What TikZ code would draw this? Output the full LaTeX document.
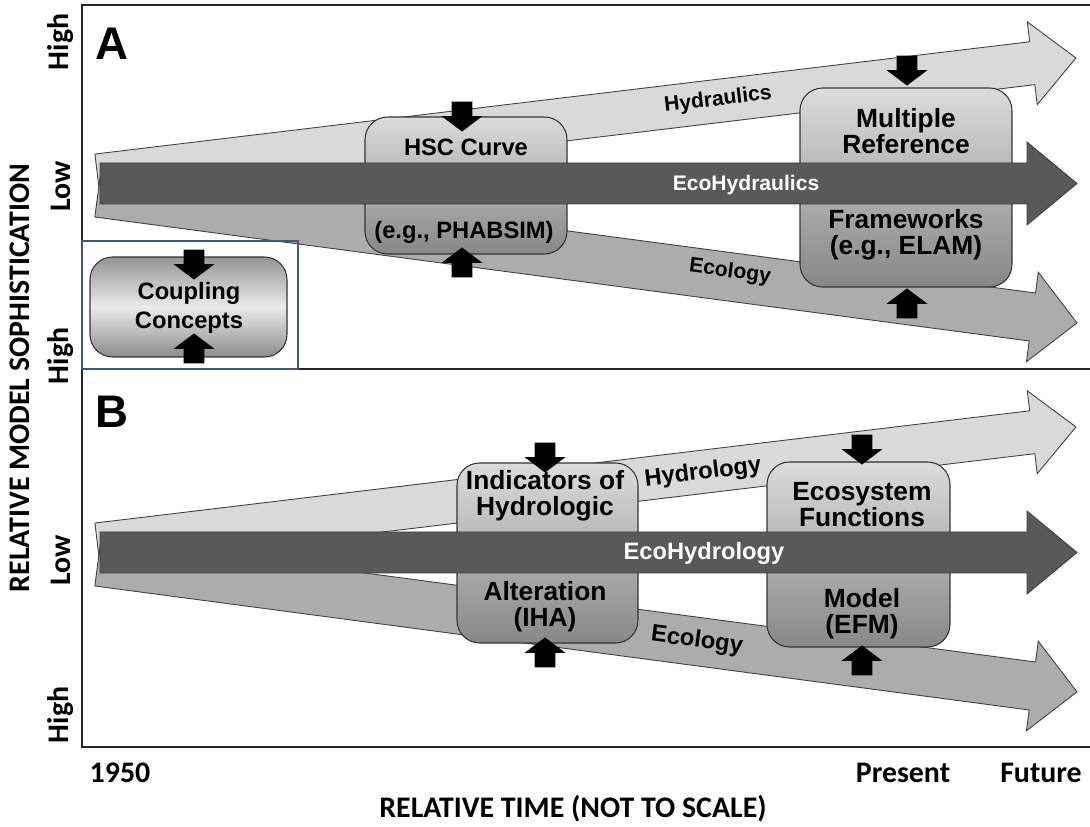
\documentclass[tikz,border=0pt]{standalone}
\usepackage{fontspec}
\setmainfont{Liberation Sans}
\newfontfamily\axisfont{Carlito}
\usetikzlibrary{shapes.arrows, positioning}
\definecolor{hydrogray}{RGB}{217,217,217}
\definecolor{ecolgray}{RGB}{172,172,172}
\definecolor{ecodark}{RGB}{89,89,89}
\definecolor{insetblue}{RGB}{59,89,125}

% wide band arrow: fill, tail centre, angle, length, shaft half, head half, head length
\newcommand{\bandarrow}[7]{%
  \draw[band, fill=#1, shift={#2}, rotate=#3]
    (0,-#5) -- ({#4-#7},-#5) -- ({#4-#7},-#6) -- (#4,0) -- ({#4-#7},#6) -- ({#4-#7},#5) -- (0,#5) -- cycle;}

\begin{document}
\begin{tikzpicture}[
    x=0.02cm, y=-0.02cm,
    panel/.style={line width=1.3pt, black!85},
    band/.style={draw=black!75, line width=0.5pt},
    modelbox/.style={rectangle, rounded corners=0.45cm, draw=black!80, line width=0.6pt, top color=black!14, bottom color=black!47},
    couplebox/.style={rectangle, rounded corners=0.45cm, draw=black!80, line width=0.6pt, top color=black!42, bottom color=black!45, middle color=black!8},
    pointer/.style={single arrow, fill=black, minimum height=0.6cm, text height=0.4cm, text depth=0pt, text width=0pt, single arrow head extend=0.2cm, single arrow tip angle=106, inner sep=0pt, anchor=tip},
    letter/.style={font=\bfseries\fontsize{26}{28}\selectfont, inner sep=0pt},
    bandtxt/.style={font=\bfseries\fontsize{12}{14}\selectfont, inner sep=0pt},
    bandtxtB/.style={font=\bfseries\fontsize{13.5}{15}\selectfont, inner sep=0pt},
    boxtxt/.style={font=\bfseries\fontsize{13.5}{16.4}\selectfont, align=center, inner sep=0pt},
    bigboxtxt/.style={font=\bfseries\fontsize{15}{14.8}\selectfont, align=center, inner sep=0pt},
    axistxt/.style={font=\axisfont\bfseries\fontsize{17}{19}\selectfont, inner sep=0pt}
]
\useasboundingbox (0,0) rectangle (1090,827);

% panels
\draw[panel] (1090,5) -- (82,5) -- (82,747) -- (1090,747);
\draw[panel] (82,369) -- (1090,369);

% hydraulics / hydrology and ecology bands
\foreach \dy in {0,369} {
  \bandarrow{hydrogray}{(97.5,{175.5+\dy})}{6.85}{985.5}{21.6}{41.7}{44}
  \bandarrow{ecolgray}{(98,{193+\dy})}{-7.56}{987.6}{24.2}{45.2}{45}
}

% model boxes
\node[modelbox, minimum width=4.04cm, minimum height=2.74cm] (hsc) at (466,185.5) {};
\node[modelbox, minimum width=4.24cm, minimum height=3.98cm] (multiref) at (906,187.5) {};
\node[modelbox, minimum width=3.62cm, minimum height=3.6cm] (iha) at (547.5,553) {};
\node[modelbox, minimum width=3.66cm, minimum height=3.7cm] (efm) at (858.5,554.5) {};

% inset
\draw[insetblue, line width=0.9pt] (82,241) rectangle (298,369);
\node[couplebox, minimum width=3.94cm, minimum height=2cm] (coupling) at (188.5,307) {};

% eco bands
\foreach \dy in {0,369} {
  \bandarrow{ecodark}{(100,{183.5+\dy})}{0}{977}{20.5}{41.5}{50}
}

% pointers
\foreach \px/\py in {462/132, 907/86, 194/280, 545/473, 862/465}
  \node[pointer, rotate=-90] (down\px) at (\px,\py) {};
\foreach \px/\py in {462/247, 907/288, 194/333, 545/637, 862/645}
  \node[pointer, rotate=90] (up\px) at (\px,\py) {};

% panel A texts
\node[letter] (lblA) at (112,44) {A};
\node[bandtxt, rotate=6.85] (hydraulics) at (718,100) {Hydraulics};
\node[bandtxt, white] (ecohydraulics) at (746,185) {EcoHydraulics};
\node[bandtxt, rotate=-7.56] (ecologyA) at (730,272) {Ecology};
\node[boxtxt] (hsctop) at (466,147) {HSC Curve};
\node[boxtxt] (hscbot) at (464,232) {(e.g., PHABSIM)};
\node[bigboxtxt] (multitop) at (906,131.5) {Multiple\\Reference};
\node[bigboxtxt] (multibot) at (906,235) {Frameworks\\(e.g., ELAM)};
\node[boxtxt] (couplingtxt) at (189,307.5) {Coupling\\Concepts};

% panel B texts
\node[letter] (lblB) at (112,412) {B};
\node[bandtxtB, rotate=6.85] (hydrology) at (703,473) {Hydrology};
\node[bandtxtB, white] (ecohydrology) at (704,553) {EcoHydrology};
\node[bandtxtB, rotate=-7.56] (ecologyB) at (697,641) {Ecology};
\node[bigboxtxt] (ihatop) at (545,495.5) {Indicators of\\Hydrologic};
\node[bigboxtxt] (ihabot) at (545,606.5) {Alteration\\(IHA)};
\node[bigboxtxt] (efmtop) at (862,504.5) {Ecosystem\\Functions};
\node[bigboxtxt] (efmbot) at (862,613.5) {Model\\(EFM)};

% axes
\node[axistxt] (t1950) at (120,773) {1950};
\node[axistxt] (tpresent) at (903,773) {Present};
\node[axistxt] (tfuture) at (1041,773) {Future};
\node[axistxt] (timeaxis) at (573,809) {RELATIVE TIME (NOT TO SCALE)};
\node[axistxt, rotate=90] (modelaxis) at (20,378) {RELATIVE MODEL SOPHISTICATION};
\node[axistxt, rotate=90] (highA) at (61,42) {High};
\node[axistxt, rotate=90] (lowA) at (61,186) {Low};
\node[axistxt, rotate=90] (highmid) at (61,356) {High};
\node[axistxt, rotate=90] (lowB) at (61,560) {Low};
\node[axistxt, rotate=90] (highB) at (61,715) {High};

\end{tikzpicture}
\end{document}
